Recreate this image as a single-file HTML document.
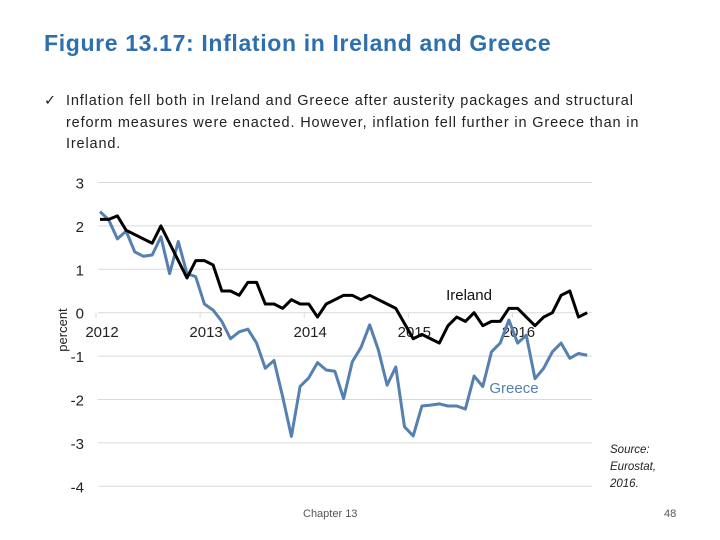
<!DOCTYPE html>
<html><head><meta charset="utf-8"><style>
body{margin:0;background:#fff;width:720px;height:540px;overflow:hidden;position:relative;font-family:"Liberation Sans",sans-serif}
.t{position:absolute;white-space:nowrap}
</style></head><body>
<div class="t" style="left:44px;top:30px;font-size:23px;font-weight:bold;letter-spacing:0.65px;color:#2e6fae">Figure 13.17: Inflation in Ireland and Greece</div>
<div class="t" style="left:44px;top:91px;font-size:14.5px;line-height:21.5px;letter-spacing:0.85px;color:#222;white-space:normal;width:605px">
<span style="position:absolute;left:0">✓</span><div style="padding-left:22px">Inflation fell both in Ireland and Greece after austerity packages and structural reform measures were enacted. However, inflation fell further in Greece than in Ireland.</div></div>
<svg id="chart" width="720" height="540" style="position:absolute;left:0;top:0"></svg>
<div class="t" style="left:610px;top:442px;font-size:11.5px;font-style:italic;line-height:17px;color:#222">Source:<br>Eurostat,<br>2016.</div>
<div class="t" style="left:303px;top:508px;font-size:11px;color:#555">Chapter 13</div>
<div class="t" style="left:664px;top:508px;font-size:11px;color:#555">48</div>
<script>
const yTicks=[3,2,1,0,-1,-2,-3,-4];
const years=["2012","2013","2014","2015","2016"];
const ireland=[2.15,2.15,2.23,1.9,1.8,1.7,1.6,2.0,1.6,1.2,0.8,1.2,1.2,1.1,0.5,0.5,0.4,0.7,0.7,0.2,0.2,0.1,0.3,0.2,0.2,-0.1,0.2,0.3,0.4,0.4,0.3,0.4,0.3,0.2,0.1,-0.25,-0.6,-0.5,-0.6,-0.7,-0.3,-0.1,-0.2,0.0,-0.3,-0.2,-0.2,0.1,0.1,-0.1,-0.3,-0.1,0.0,0.4,0.5,-0.1,0.0];
const greece=[2.33,2.14,1.7,1.88,1.4,1.3,1.33,1.75,0.9,1.64,0.9,0.83,0.2,0.06,-0.2,-0.6,-0.44,-0.38,-0.7,-1.28,-1.1,-1.94,-2.85,-1.7,-1.5,-1.15,-1.32,-1.35,-1.98,-1.13,-0.8,-0.28,-0.86,-1.67,-1.25,-2.63,-2.84,-2.15,-2.13,-2.1,-2.15,-2.15,-2.22,-1.46,-1.7,-0.9,-0.7,-0.17,-0.7,-0.52,-1.52,-1.28,-0.9,-0.7,-1.05,-0.94,-0.98];
const NS="http://www.w3.org/2000/svg",svg=document.getElementById('chart');
const y=v=>312.7-v*43.4;
const x=i=>100+i*8.7;
const yearX=k=>96+k*104.1;
function mk(t,a){const e=document.createElementNS(NS,t);for(const k in a)e.setAttribute(k,a[k]);svg.appendChild(e);return e;}
yTicks.forEach(v=>{
 if(v!==0){const g=mk('line',{x1:98,x2:592,y1:y(v),y2:y(v),stroke:'#d9d9d9','stroke-width':1});
 
 }
 const t=mk('text',{x:84,y:y(v)+6,'text-anchor':'end','font-size':15,fill:'#222','font-family':'Liberation Sans'});
 t.textContent=v;
 
 
});
const ax=mk('line',{x1:98,x2:592,y1:y(0),y2:y(0),stroke:'#d9d9d9','stroke-width':1});


years.forEach((s,k)=>{
 const tk=mk('line',{x1:yearX(k),x2:yearX(k),y1:y(0),y2:y(0)+5,stroke:'#d9d9d9'});
 
 
 const t=mk('text',{x:yearX(k)+6,y:337,'text-anchor':'middle','font-size':15,fill:'#222','font-family':'Liberation Sans'});
 t.textContent=s;
 
 
});
const yt=mk('text',{x:0,y:0,transform:'translate(67,330) rotate(-90)','text-anchor':'middle','font-size':13,fill:'#222','font-family':'Liberation Sans'});
yt.textContent='percent';


const pg=mk('polyline',{points:greece.map((v,i)=>x(i)+','+y(v)).join(' '),fill:'none',stroke:'#5580b0','stroke-width':3,'stroke-linejoin':'round'});


const pi=mk('polyline',{points:ireland.map((v,i)=>x(i)+','+y(v)).join(' '),fill:'none',stroke:'#000','stroke-width':3,'stroke-linejoin':'round'});


const li=mk('text',{x:469,y:300,'text-anchor':'middle','font-size':15,fill:'#111','font-family':'Liberation Sans'});
li.textContent='Ireland';


const lg=mk('text',{x:514,y:393,'text-anchor':'middle','font-size':15,fill:'#5580b0','font-family':'Liberation Sans'});
lg.textContent='Greece';


</script>
</body></html>
